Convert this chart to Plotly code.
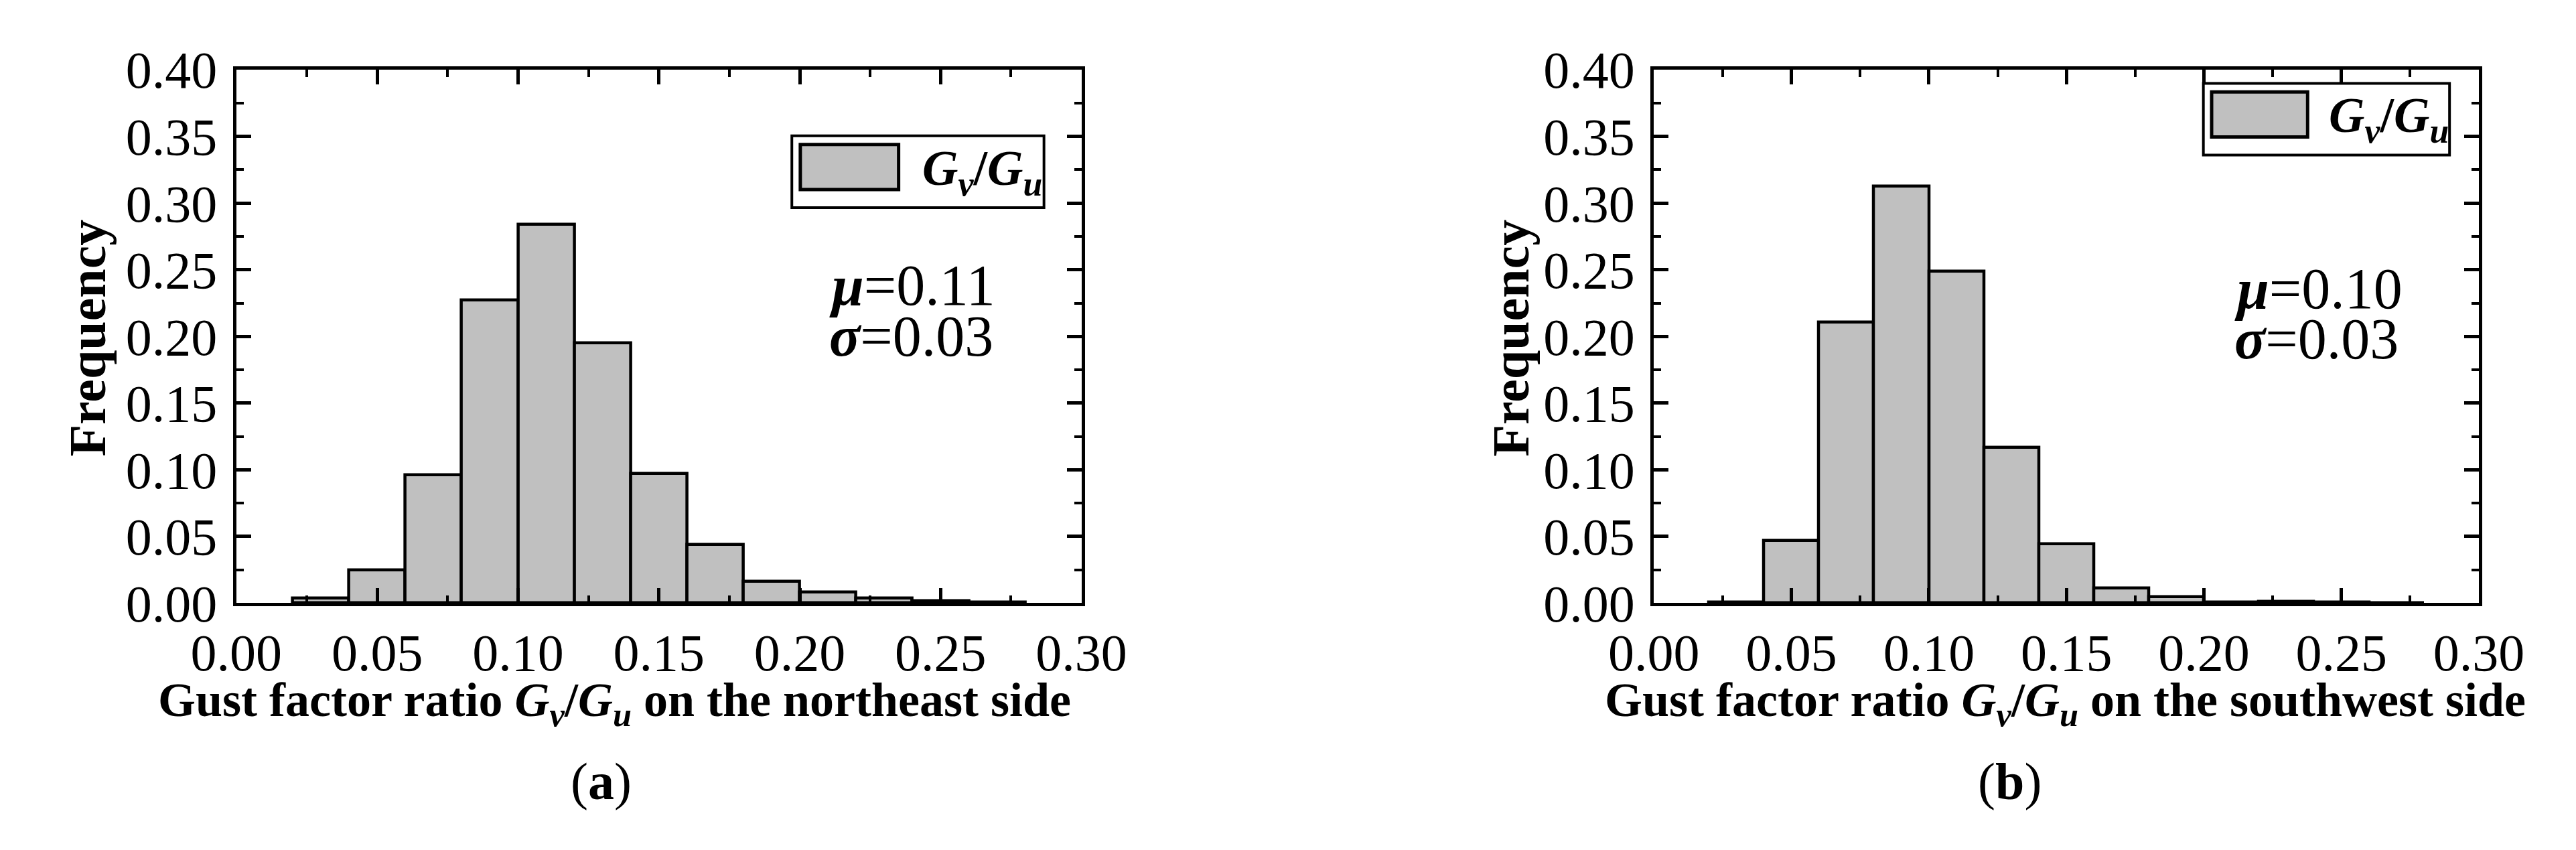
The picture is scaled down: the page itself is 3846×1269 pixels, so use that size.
import plotly.graph_objects as go

# histogram bins (left edges), width 0.02
bin_left = [0.02, 0.04, 0.06, 0.08, 0.10, 0.12, 0.14, 0.16, 0.18, 0.20, 0.22, 0.24, 0.26]
bin_width = 0.02

freq_ne = [0.0038, 0.0246, 0.096, 0.227, 0.284, 0.195, 0.097, 0.044, 0.0165, 0.008, 0.0035, 0.0015, 0.0008]
freq_sw = [0.0008, 0.0469, 0.2104, 0.3126, 0.249, 0.1166, 0.0443, 0.0114, 0.0049, 0.0008, 0.001, 0.0005, 0.0003]

mu_ne, sigma_ne = "0.11", "0.03"
mu_sw, sigma_sw = "0.10", "0.03"

x_titles = ["Gust factor ratio <i>G<sub>v</sub></i>/<i>G<sub>u</sub></i> on the northeast side",
            "Gust factor ratio <i>G<sub>v</sub></i>/<i>G<sub>u</sub></i> on the southwest side"]
panel_tags = ["(<b>a</b>)", "(<b>b</b>)"]
legend_name = "<b><i>G<sub>v</sub></i>/<i>G<sub>u</sub></i></b>"

W, H = 3846, 1269
centers = [b + bin_width / 2 for b in bin_left]

fig = go.Figure()
for i, vals in enumerate([freq_ne, freq_sw]):
    ax = "" if i == 0 else "2"
    fig.add_trace(go.Bar(
        x=centers, y=vals, width=bin_width,
        marker=dict(color="#c0c0c0", line=dict(color="black", width=4.5)),
        xaxis="x" + ax, yaxis="y" + ax, showlegend=False,
    ))

axis_common = dict(
    showline=True, linecolor="black", linewidth=5, mirror="ticks",
    ticks="inside", ticklen=22, tickwidth=5, tickcolor="black",
    showgrid=False, zeroline=False,
    tickfont=dict(family="Liberation Serif", size=78, color="black"),
    tickformat=".2f",
)

top, bottom = 1 - 57 / H, 1 - 912 / H
doms = [[287 / W, 1595 / W], [2481 / W, 3758 / W]]

layout = dict(
    width=W, height=H, margin=dict(l=0, r=0, t=0, b=0),
    paper_bgcolor="white", plot_bgcolor="white", bargap=0,
)
for i in range(2):
    ax = "" if i == 0 else "2"
    layout["xaxis" + ax] = dict(axis_common, domain=doms[i], range=[0, 0.30], tick0=0, dtick=0.05,
                                anchor="y" + ax, ticklabelstandoff=2,
                                minor=dict(dtick=0.025, ticklen=11, tickwidth=4, tickcolor="black", ticks="inside"))
    layout["yaxis" + ax] = dict(axis_common, domain=[bottom, top], range=[0, 0.40], tick0=0, dtick=0.05,
                                anchor="x" + ax, ticklabelstandoff=8,
                                minor=dict(dtick=0.025, ticklen=11, tickwidth=4, tickcolor="black", ticks="inside"))
fig.update_layout(**layout)

# legend boxes (drawn by hand), text stats, titles
leg_box = [(0.1972, 0.3504), (0.1998, 0.3898)]
stats = [((0.2101, 0.2385, 0.200), mu_ne, sigma_ne), ((0.2105, 0.236, 0.198), mu_sw, sigma_sw)]
shapes, annos = [], []
for i in range(2):
    ax = "" if i == 0 else "2"
    xr, yr = "x" + ax, "y" + ax
    bx, by = leg_box[i]
    shapes.append(dict(type="rect", xref=xr, yref=yr, x0=bx, x1=bx + 0.0895, y0=by - 0.0538, y1=by,
                       line=dict(color="black", width=4), fillcolor="white"))
    shapes.append(dict(type="rect", xref=xr, yref=yr, x0=bx + 0.003, x1=bx + 0.0379,
                       y0=by - 0.0402, y1=by - 0.0065,
                       line=dict(color="black", width=5), fillcolor="#c0c0c0"))
    annos.append(dict(xref=xr, yref=yr, x=bx + 0.0675, y=by - 0.0267, text=legend_name, showarrow=False,
                      xanchor="center", yanchor="middle",
                      font=dict(family="Liberation Serif", size=74, color="black")))
    (sx, my, sy), mu, sg = stats[i]
    annos.append(dict(xref=xr, yref=yr, x=sx, y=my, xanchor="left", yanchor="middle", showarrow=False,
                      text="<b><i>\u03bc</i></b>=" + mu,
                      font=dict(family="Liberation Serif", size=86, color="black")))
    annos.append(dict(xref=xr, yref=yr, x=sx, y=sy, xanchor="left", yanchor="middle", showarrow=False,
                      text="<b><i>\u03c3</i></b>=" + sg,
                      font=dict(family="Liberation Serif", size=86, color="black")))

title_x = [872 / W, 3118 / W]
freq_x = [57 / W, 2260 / W]
tag_x = [852 / W, 3032 / W]
for i in range(2):
    annos.append(dict(xref="paper", yref="paper", x=title_x[i], y=1 - 1072 / H, text="<b>" + x_titles[i] + "</b>",
                      xanchor="center", yanchor="middle", showarrow=False,
                      font=dict(family="Liberation Serif", size=72, color="black")))
    annos.append(dict(xref="paper", yref="paper", x=freq_x[i], y=1 - 487 / H, text="<b>Frequency</b>",
                      xanchor="center", yanchor="middle", textangle=-90, showarrow=False,
                      font=dict(family="Liberation Serif", size=78, color="black")))
    annos.append(dict(xref="paper", yref="paper", x=tag_x[i], y=1 - 1198 / H, text=panel_tags[i],
                      xanchor="center", yanchor="middle", showarrow=False,
                      font=dict(family="Liberation Serif", size=78, color="black")))

fig.update_layout(shapes=shapes, annotations=annos)
fig.write_html("out.html")
